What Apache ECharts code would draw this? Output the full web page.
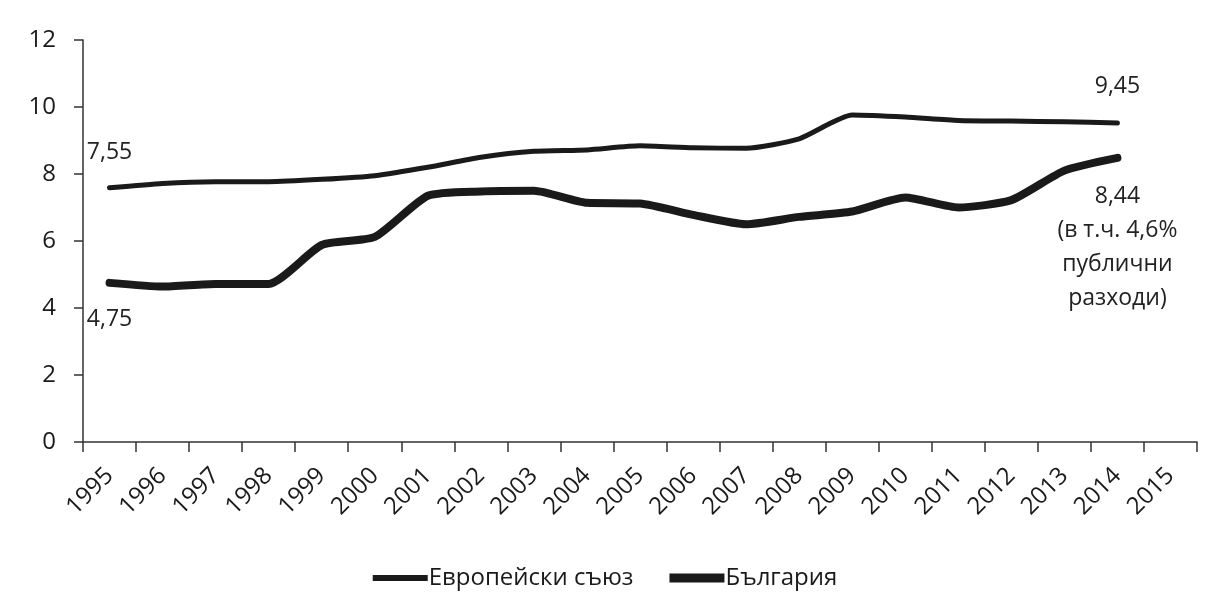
<!DOCTYPE html>
<html>
<head>
<meta charset="utf-8">
<script src="https://cdn.jsdelivr.net/npm/echarts@6/dist/echarts.min.js"></script>
<style>
html,body{margin:0;padding:0;background:#fff;}
#c{width:1210px;height:605px;}
</style>
</head>
<body>
<div id="c"></div>
<script>
const years = ['1995','1996','1997','1998','1999','2000','2001','2002','2003','2004','2005','2006','2007','2008','2009','2010','2011','2012','2013','2014','2015'];
const seriesNames = ['Европейски съюз', 'България'];
const euValues = [7.59,7.72,7.77,7.77,7.84,7.95,8.2,8.5,8.68,8.72,8.84,8.78,8.77,9.05,9.76,9.7,9.6,9.58,9.56,9.52,null];
const bgValues = [4.75,4.64,4.72,4.72,5.88,6.12,7.35,7.48,7.5,7.14,7.12,6.78,6.5,6.72,6.88,7.3,7.0,7.22,8.1,8.48,null];
const euStartLabel = '7,55';
const euEndLabel = '9,45';
const bgStartLabel = '4,75';
const bgEndLabel = '8,44\n(в т.ч. 4,6%\nпублични\nразходи)';
const yTicks = {min: 0, max: 12, interval: 2};

const FONT = 'Open Sans';
const INK = '#1a1a1a';
const startIdx = 0, endIdx = 19;

function mp(cat, val, text, pos, dist) {
  return {
    coord: [cat, val], symbol: 'circle', symbolSize: 0,
    label: {show: true, formatter: text, position: pos, distance: dist,
      fontFamily: FONT, fontSize: 23, color: '#222', lineHeight: 34, align: 'center'}
  };
}

const chart = echarts.init(document.getElementById('c'), null, {renderer: 'canvas'});
chart.setOption({
  backgroundColor: '#fff',
  animation: false,
  grid: {left: 83, right: 13, top: 40, bottom: 163, containLabel: false},
  legend: {
    bottom: 10, left: 'center', itemWidth: 55, itemHeight: 10, itemGap: 36,
    textStyle: {fontFamily: FONT, fontSize: 24, color: INK, padding: [0,0,0,-4]},
    data: [
      {name: seriesNames[0], icon: 'path://M0,0L55,0L55,6L0,6Z'},
      {name: seriesNames[1], icon: 'path://M0,0L55,0L55,9L0,9Z'}
    ]
  },
  xAxis: {
    type: 'category', data: years, boundaryGap: true,
    axisLine: {lineStyle: {color: '#333', width: 1.5}},
    axisTick: {show: true, length: 10, lineStyle: {color: '#333', width: 1.5}},
    axisLabel: {rotate: 45, interval: 0, margin: 30, fontFamily: FONT, fontSize: 24, color: INK}
  },
  yAxis: {
    type: 'value', min: yTicks.min, max: yTicks.max, interval: yTicks.interval,
    axisLine: {show: true, lineStyle: {color: '#333', width: 1.5}},
    axisTick: {show: true, length: 9, lineStyle: {color: '#333', width: 1.5}},
    splitLine: {show: false},
    axisLabel: {margin: 27, fontFamily: FONT, fontSize: 24, color: INK}
  },
  series: [
    {
      name: seriesNames[0], type: 'line', data: euValues, symbol: 'none', smooth: 0.2,
      lineStyle: {color: INK, width: 5, cap: 'round', join: 'round'}, itemStyle: {color: INK},
      markPoint: {silent: true, data: [
        mp(years[startIdx], euValues[startIdx], euStartLabel, 'top', 18),
        mp(years[endIdx], euValues[endIdx], euEndLabel, 'top', 20)
      ]}
    },
    {
      name: seriesNames[1], type: 'line', data: bgValues, symbol: 'none', smooth: 0.2,
      lineStyle: {color: INK, width: 8, cap: 'round', join: 'round'}, itemStyle: {color: INK},
      markPoint: {silent: true, data: [
        mp(years[startIdx], bgValues[startIdx], bgStartLabel, 'bottom', 20),
        mp(years[endIdx], bgValues[endIdx], bgEndLabel, 'bottom', 22)
      ]}
    }
  ]
});
</script>
</body>
</html>
